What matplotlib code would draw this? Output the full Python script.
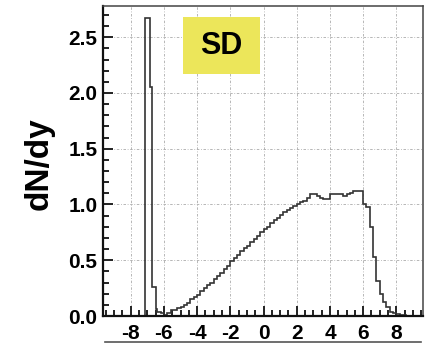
import numpy as np
import matplotlib
matplotlib.use("Agg")
import matplotlib.pyplot as plt
from matplotlib.patches import Rectangle
from matplotlib.lines import Line2D
from matplotlib.ticker import MultipleLocator

plt.rcParams['font.family'] = ['Liberation Sans', 'DejaVu Sans']

# narrow peak at the beam rapidity: its own bin edges and contents
peak_edges = [-7.15, -6.85, -6.7, -6.5, -6.4]
peak_dndy = [2.67, 2.05, 0.26, 0.06]

# rest of the histogram: first bin edge, bin width, bin contents (dN/dy)
y_start = -6.4
bin_width = 0.2
dndy = [
    0.04, 0.025, 0.01, 0.03, 0.05, 0.05,                           # -6.4 .. -5.4
    0.07, 0.08, 0.10, 0.12, 0.15, 0.17, 0.19, 0.22, 0.25, 0.28,    # -5.2 .. -3.4
    0.30, 0.33, 0.36, 0.39, 0.42, 0.45, 0.49, 0.52, 0.55, 0.58,    # -3.2 .. -1.4
    0.61, 0.63, 0.66, 0.69, 0.72, 0.75, 0.78, 0.80, 0.83, 0.86,    # -1.2 .. 0.6
    0.88, 0.91, 0.93, 0.95, 0.97, 0.99, 1.00, 1.02, 1.03, 1.055,   # 0.8 .. 2.6
    1.09, 1.09, 1.075, 1.06, 1.05, 1.05, 1.09, 1.09, 1.09, 1.09,   # 2.8 .. 4.6
    1.075, 1.09, 1.10, 1.125, 1.125, 1.12, 1.00, 0.98, 0.80, 0.53, # 4.8 .. 6.6
    0.31, 0.20, 0.13, 0.08, 0.04, 0.03, 0.015, 0.01, 0.005, 0.0,   # 6.8 .. 8.6
    0.0,                                                           # 8.8
]
edges = np.concatenate([peak_edges[:-1],
                        y_start + bin_width * np.arange(len(dndy) + 1)])
values = np.concatenate([peak_dndy, dndy])

x_ticks = [-8, -6, -4, -2, 0, 2, 4, 6, 8]
y_ticks = [0.0, 0.5, 1.0, 1.5, 2.0, 2.5]
y_tick_labels = ['0.0', '0.5', '1.0', '1.5', '2.0', '2.5']

fig = plt.figure(figsize=(4.32, 3.43), dpi=100)
ax = fig.add_axes([0.2384, 0.0787, 0.7406, 0.9038])

ax.stairs(values, edges, baseline=0, color='#333333', linewidth=1.2)

ax.set_xlim(-9.67, 9.6)
ax.set_ylim(0, 2.78)

ax.set_xticks(x_ticks)
ax.set_xticklabels([str(t) for t in x_ticks])
ax.set_yticks(y_ticks)
ax.set_yticklabels(y_tick_labels)
ax.xaxis.set_minor_locator(MultipleLocator(0.5))
ax.yaxis.set_minor_locator(MultipleLocator(0.1))
ax.tick_params(which='both', direction='in', top=False, right=False,
               width=1.4, color='#222222')
ax.tick_params(which='major', length=7, labelsize=15)
ax.tick_params(which='minor', length=4.5)
ax.tick_params(axis='x', which='major', pad=6)
ax.tick_params(axis='y', which='major', pad=4)
for lab in ax.get_xticklabels() + ax.get_yticklabels():
    lab.set_fontweight('bold')

ax.grid(True, which='major', color='#ababab', linewidth=0.6,
        linestyle=(0, (3, 2, 1, 2)))
ax.set_axisbelow(True)

for side in ['left', 'bottom']:
    ax.spines[side].set_linewidth(1.6)
    ax.spines[side].set_color('#111111')
for side in ['top', 'right']:
    ax.spines[side].set_linewidth(1.1)
    ax.spines[side].set_color('#444444')

ax.set_ylabel('dN/dy', fontsize=24, fontweight='bold')
ax.yaxis.set_label_coords(-0.15, 0.49)

# yellow label box
ax.add_patch(Rectangle((0.25, 0.78), 0.24, 0.185, transform=ax.transAxes,
                       facecolor='#ece65a', edgecolor='none', zorder=3))
ax.text(0.37, 0.872, 'SD', transform=ax.transAxes, fontsize=22,
        fontweight='bold', ha='center', va='center', zorder=4)

# line at the bottom edge
fig.add_artist(Line2D([0.243, 0.975], [0.004, 0.004], transform=fig.transFigure,
                      color='#555555', linewidth=1.2))

fig.savefig('out.png', dpi=100)
